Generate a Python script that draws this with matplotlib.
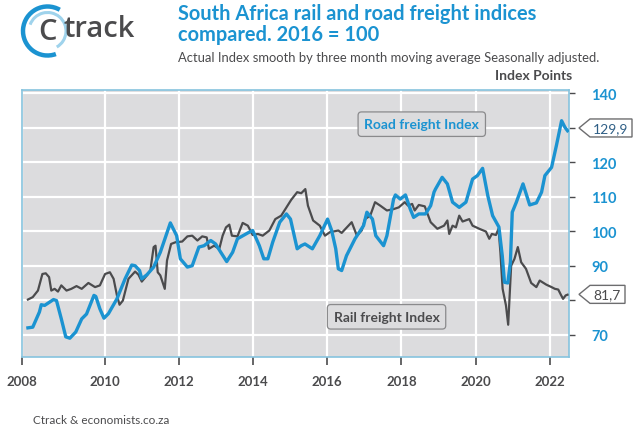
import numpy as np
import matplotlib
matplotlib.use("Agg")
from matplotlib import pyplot as plt
from matplotlib.patches import Arc, Polygon

# values (decimal years, index points)
road_x = [2007.93, 2008.06, 2008.24, 2008.29, 2008.38, 2008.62, 2008.70, 2008.83, 2008.95, 2009.06,
          2009.22, 2009.38, 2009.51, 2009.71, 2009.76, 2009.87, 2009.98, 2010.10, 2010.33, 2010.55,
          2010.73, 2010.82, 2010.94, 2011.00, 2011.14, 2011.32, 2011.50, 2011.77, 2011.94, 2012.04,
          2012.23, 2012.36, 2012.54, 2012.68, 2012.86, 2012.99, 2013.13, 2013.29, 2013.45, 2013.58,
          2013.86, 2013.99, 2014.17, 2014.29, 2014.40, 2014.53, 2014.72, 2014.90, 2015.01, 2015.19,
          2015.30, 2015.40, 2015.60, 2015.80, 2016.01, 2016.12, 2016.23, 2016.30, 2016.39, 2016.52,
          2016.75, 2016.98, 2017.07, 2017.22, 2017.31, 2017.52, 2017.61, 2017.79, 2017.84, 2017.97,
          2018.11, 2018.24, 2018.33, 2018.47, 2018.65, 2018.79, 2018.88, 2018.92, 2019.10, 2019.24,
          2019.38, 2019.56, 2019.74, 2019.92, 2020.05, 2020.19, 2020.33, 2020.46, 2020.63, 2020.72,
          2020.78, 2020.87, 2020.94, 2020.99, 2021.10, 2021.28, 2021.46, 2021.64, 2021.78, 2021.87,
          2022.05, 2022.18, 2022.32, 2022.41, 2022.48]
road_y = [72.0, 72.2, 76.6, 78.7, 78.5, 80.2, 79.9, 74.6, 69.4, 69.0,
          70.8, 74.6, 76.0, 81.4, 81.1, 77.5, 74.8, 76.1, 80.4, 86.2,
          90.2, 90.0, 88.6, 86.2, 87.4, 89.6, 93.9, 102.4, 98.7, 92.0,
          89.6, 90.0, 95.4, 95.8, 97.3, 96.3, 93.9, 91.2, 93.9, 97.8,
          99.5, 100.2, 95.8, 92.0, 92.0, 96.8, 102.6, 105.0, 103.5, 94.9,
          95.8, 96.3, 94.9, 98.7, 103.5, 100.2, 94.9, 89.1, 88.6, 92.9,
          97.8, 101.6, 105.5, 103.5, 98.7, 95.8, 98.7, 109.3, 110.5, 109.3,
          110.5, 106.4, 104.0, 105.0, 105.0, 107.4, 111.3, 112.2, 115.6, 113.7,
          108.4, 106.9, 108.4, 115.1, 116.1, 118.2, 110.3, 104.5, 101.2, 92.9,
          85.2, 85.0, 91.0, 105.5, 108.4, 113.7, 107.6, 108.2, 111.3, 116.1,
          118.5, 124.8, 132.0, 130.1, 129.1]

rail_x = [2007.93, 2008.06, 2008.20, 2008.32, 2008.41, 2008.50, 2008.56, 2008.65, 2008.74, 2008.83,
          2008.97, 2009.10, 2009.24, 2009.38, 2009.56, 2009.74, 2009.87, 2010.01, 2010.14, 2010.24,
          2010.33, 2010.40, 2010.49, 2010.64, 2010.82, 2010.91, 2011.00, 2011.14, 2011.23, 2011.32,
          2011.37, 2011.43, 2011.50, 2011.62, 2011.68, 2011.79, 2011.91, 2012.09, 2012.23, 2012.36,
          2012.50, 2012.63, 2012.75, 2012.81, 2012.95, 2013.09, 2013.18, 2013.27, 2013.36, 2013.43,
          2013.58, 2013.72, 2013.86, 2013.99, 2014.13, 2014.26, 2014.44, 2014.60, 2014.76, 2015.03,
          2015.19, 2015.30, 2015.41, 2015.48, 2015.62, 2015.80, 2015.94, 2016.07, 2016.30, 2016.39,
          2016.66, 2016.80, 2016.93, 2017.02, 2017.16, 2017.29, 2017.43, 2017.61, 2017.79, 2017.93,
          2018.09, 2018.18, 2018.29, 2018.36, 2018.47, 2018.63, 2018.79, 2018.97, 2019.15, 2019.24,
          2019.29, 2019.38, 2019.47, 2019.56, 2019.65, 2019.83, 2019.92, 2020.10, 2020.28, 2020.37,
          2020.44, 2020.55, 2020.62, 2020.67, 2020.73, 2020.82, 2020.88, 2020.96, 2021.05, 2021.14,
          2021.23, 2021.36, 2021.50, 2021.64, 2021.73, 2021.91, 2022.05, 2022.14, 2022.23, 2022.30,
          2022.36, 2022.43, 2022.48]
rail_y = [80.2, 80.9, 82.8, 87.6, 87.8, 86.7, 82.8, 83.3, 82.5, 84.3,
          82.8, 83.3, 84.1, 83.3, 85.0, 83.8, 84.3, 87.6, 88.1, 86.2,
          81.4, 78.7, 79.9, 86.2, 88.3, 87.4, 85.4, 87.2, 88.6, 95.4,
          95.8, 88.1, 87.2, 83.3, 91.5, 96.3, 96.8, 97.0, 98.5, 98.7,
          97.3, 98.5, 98.2, 94.9, 95.8, 94.9, 98.7, 101.1, 101.9, 98.7,
          98.5, 102.4, 101.6, 98.9, 99.2, 98.7, 100.2, 103.5, 104.5, 109.1,
          111.3, 111.0, 112.2, 107.4, 103.1, 101.6, 98.7, 99.7, 100.2, 99.5,
          102.6, 98.7, 100.2, 103.5, 104.5, 108.4, 107.4, 106.0, 106.4, 106.9,
          108.4, 107.4, 107.9, 106.0, 107.6, 107.2, 102.6, 100.7, 101.6, 103.1,
          99.2, 101.6, 101.1, 104.5, 102.8, 103.5, 101.6, 100.7, 99.9, 97.8,
          99.2, 98.9, 100.7, 93.9, 83.3, 78.5, 72.9, 90.0, 92.0, 95.4,
          91.0, 89.1, 85.0, 83.8, 85.7, 84.5, 83.8, 83.3, 83.1, 81.6,
          80.4, 81.4, 81.6]

road_last = 129.9
rail_last = 81.7
year_ticks = [2010, 2012, 2014, 2016, 2018, 2020, 2022]
year_labels = ["2008", "2010", "2012", "2014", "2016", "2018", "2020", "2022"]
y_ticks = [70, 80, 90, 100, 110, 120, 130, 140]
y_labels = ["70", "", "90", "100", "110", "120", "", "140"]  # 80 and 130 sit under the callouts

BLUE = "#1b93d1"
DARK = "#4b4b4d"
BG = "#dcdcde"
FONT = "Lato"

W, H = 640, 427
fig = plt.figure(figsize=(6.4, 4.27), dpi=100)
fig.patch.set_facecolor("white")


def fx(px):
    return px / W


def fy(py):
    return 1 - py / H


ax = fig.add_axes([fx(22), fy(357.5), fx(569) - fx(22), fy(91) - fy(357.5)])
ax.set_facecolor(BG)
ax.plot(road_x, road_y, color=BLUE, lw=2.4, solid_joinstyle="round", zorder=4)
ax.plot(rail_x, rail_y, color=DARK, lw=1.6, solid_joinstyle="round", zorder=3)

x0 = 2007.77
ax.set_xlim(x0, 2022.52)
ax.set_ylim(63.7, 140.9)
ax.set_xticks([x0] + year_ticks)
ax.set_xticklabels(year_labels, fontsize=9.5, fontweight="bold", color=DARK, family=FONT)
ax.set_yticks(y_ticks)
ax.yaxis.tick_right()
ax.set_yticklabels(y_labels, fontsize=10.5, fontweight="bold", color=BLUE, family=FONT)
ax.tick_params(axis="x", length=6, width=1.2, color=DARK, pad=7)
ax.tick_params(axis="y", length=4, width=1.0, color=DARK, pad=12)
ax.grid(True, color="white", lw=1.6)
ax.set_axisbelow(True)
for s in ax.spines.values():
    s.set_color("#86c3de")
    s.set_linewidth(1.2)

# series labels in boxes
box_kw = dict(boxstyle="round,pad=0.45,rounding_size=0.25", fc=BG, ec="#8a8a8c", lw=0.9)
ax.text(2018.55, 131.0, "Road freight Index", color=BLUE, fontsize=10, fontweight="bold",
        family=FONT, ha="center", va="center", bbox=box_kw, zorder=6)
ax.text(2017.6, 75.2, "Rail freight Index", color=DARK, fontsize=10, fontweight="bold",
        family=FONT, ha="center", va="center", bbox=box_kw, zorder=6)


# last-value callouts on the right
def callout(value, x1, color):
    yc = H - ax.transData.transform((0, value))[1]
    pts = [(579, yc), (590, yc - 9), (x1, yc - 9), (x1, yc + 9), (590, yc + 9)]
    poly = Polygon([(fx(a), fy(b)) for a, b in pts], closed=True, transform=fig.transFigure,
                   fc="white", ec="#6d6d6f", lw=1.0)
    fig.patches.append(poly)
    fig.text(fx((590 + x1) / 2), fy(yc), f"{value:.1f}".replace(".", ","), color=color,
             fontsize=10, family=FONT, ha="center", va="center")


callout(road_last, 632, "#2f5f86")
callout(rail_last, 625, DARK)

# titles
fig.text(fx(178), fy(4), "South Africa rail and road freight indices\ncompared. 2016 = 100",
         color=BLUE, fontsize=14.4, fontweight="bold", family=FONT, ha="left", va="top",
         linespacing=1.08)
fig.text(fx(178), fy(58), "Actual Index smooth by three month moving average Seasonally adjusted.",
         color=DARK, fontsize=9.4, family=FONT, ha="left", va="center")
fig.text(fx(572), fy(76), "Index Points", color=DARK, fontsize=10, fontweight="bold",
         family=FONT, ha="right", va="center")
fig.text(fx(33), fy(426), "Ctrack & economists.co.za", color=DARK, fontsize=8.5,
         family=FONT, ha="left", va="bottom")

# logo
lg = fig.add_axes([0, fy(60), fx(150), fy(0) - fy(60)])
lg.set_xlim(0, 150)
lg.set_ylim(60, 0)
lg.axis("off")
lg.add_patch(Arc((47.5, 32), 49, 49, theta1=70, theta2=300, color=BLUE, lw=3.2))
lg.add_patch(Arc((47.5, 32), 37, 37, theta1=-160, theta2=60, color="#9fd3ec", lw=2.2))
lg.text(47.5, 33, "C", color=DARK, fontsize=21, family="Open Sans", fontweight="semibold",
        ha="center", va="center")
lg.text(64, 30, "track", color=DARK, fontsize=21, family="Open Sans", fontweight="semibold",
        ha="left", va="center")

fig.savefig("out.png", dpi=100)
